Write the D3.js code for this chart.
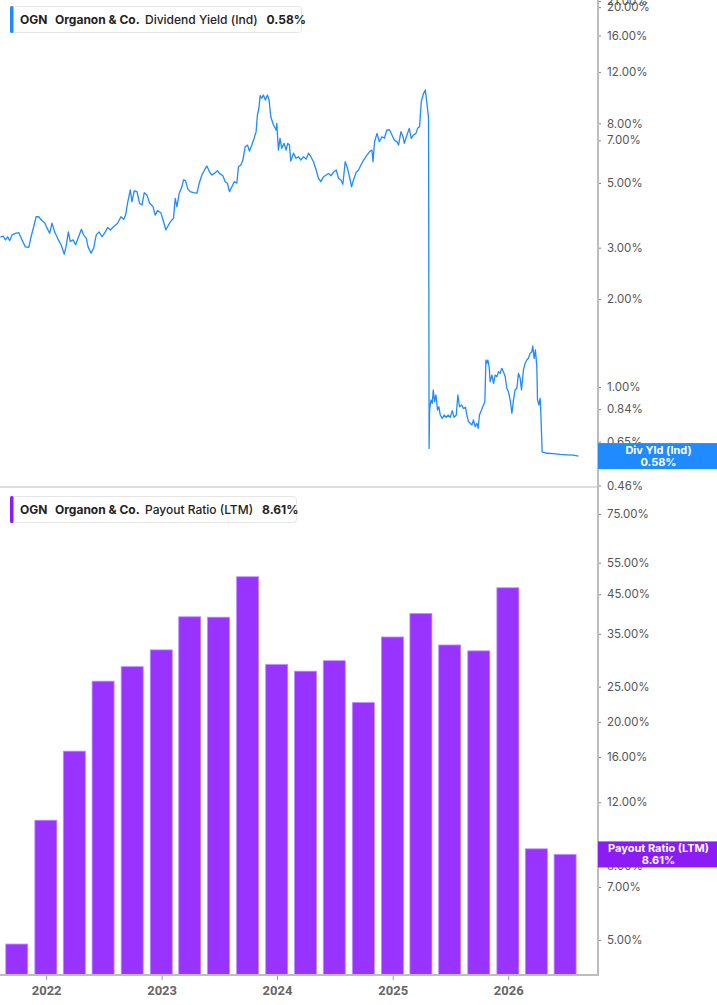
<!DOCTYPE html>
<html>
<head>
<meta charset="utf-8">
<script src="https://cdn.jsdelivr.net/npm/d3@7"></script>
<style>
  html, body { margin: 0; padding: 0; background: #fff; }
  svg { display: block; font-family: Inter, "Noto Sans", sans-serif; }
</style>
</head>
<body>
<script>
// OGN -- dividend yield (log scale) over payout ratio bars (log scale)

const WIDTH = 717;
const HEIGHT = 1005;
const AXIS_X = 598;

// Dividend yield (Ind), % -- time as decimal year
const yieldTimes = [
  2021.604, 2021.627, 2021.647, 2021.667, 2021.684, 2021.705, 2021.733, 2021.762, 2021.791, 2021.820,
  2021.849, 2021.869, 2021.892, 2021.913, 2021.935, 2021.964, 2021.987, 2022.008, 2022.030, 2022.051,
  2022.073, 2022.099, 2022.129, 2022.157, 2022.175, 2022.192, 2022.209, 2022.233, 2022.255, 2022.281,
  2022.305, 2022.324, 2022.348, 2022.363, 2022.389, 2022.411, 2022.434, 2022.458, 2022.484, 2022.512,
  2022.532, 2022.556, 2022.584, 2022.619, 2022.648, 2022.671, 2022.688, 2022.705, 2022.729, 2022.743,
  2022.763, 2022.787, 2022.809, 2022.830, 2022.850, 2022.873, 2022.896, 2022.925, 2022.945, 2022.965,
  2022.994, 2023.017, 2023.037, 2023.060, 2023.083, 2023.103, 2023.118, 2023.133, 2023.153, 2023.176,
  2023.190, 2023.207, 2023.228, 2023.248, 2023.276, 2023.306, 2023.326, 2023.349, 2023.372, 2023.392,
  2023.415, 2023.436, 2023.458, 2023.484, 2023.501, 2023.531, 2023.551, 2023.570, 2023.588, 2023.609,
  2023.629, 2023.652, 2023.666, 2023.687, 2023.704, 2023.724, 2023.744, 2023.761, 2023.782, 2023.802,
  2023.819, 2023.830, 2023.843, 2023.854, 2023.868, 2023.882, 2023.899, 2023.917, 2023.931, 2023.946,
  2023.969, 2023.992, 2023.998, 2024.012, 2024.026, 2024.041, 2024.061, 2024.078, 2024.093, 2024.107,
  2024.119, 2024.142, 2024.165, 2024.185, 2024.206, 2024.228, 2024.252, 2024.272, 2024.292, 2024.315,
  2024.338, 2024.358, 2024.379, 2024.401, 2024.425, 2024.445, 2024.465, 2024.488, 2024.511, 2024.531,
  2024.552, 2024.569, 2024.589, 2024.609, 2024.626, 2024.644, 2024.661, 2024.684, 2024.704, 2024.725,
  2024.748, 2024.777, 2024.800, 2024.820, 2024.829, 2024.843, 2024.864, 2024.884, 2024.907, 2024.927,
  2024.950, 2024.973, 2024.993, 2025.013, 2025.037, 2025.050, 2025.071, 2025.089, 2025.100, 2025.123,
  2025.143, 2025.160, 2025.180, 2025.201, 2025.215, 2025.232, 2025.247, 2025.267, 2025.282, 2025.296,
  2025.310, 2025.315, 2025.319, 2025.331, 2025.342, 2025.351, 2025.362, 2025.374, 2025.388, 2025.400,
  2025.411, 2025.429, 2025.446, 2025.463, 2025.480, 2025.498, 2025.515, 2025.532, 2025.550, 2025.564,
  2025.578, 2025.596, 2025.613, 2025.630, 2025.642, 2025.656, 2025.671, 2025.686, 2025.699, 2025.714,
  2025.729, 2025.740, 2025.751, 2025.769, 2025.786, 2025.798, 2025.807, 2025.815, 2025.824, 2025.835,
  2025.844, 2025.859, 2025.873, 2025.887, 2025.902, 2025.916, 2025.930, 2025.945, 2025.959, 2025.974,
  2025.988, 2026.002, 2026.017, 2026.032, 2026.046, 2026.060, 2026.075, 2026.089, 2026.104, 2026.115,
  2026.132, 2026.147, 2026.161, 2026.175, 2026.190, 2026.205, 2026.213, 2026.225, 2026.236, 2026.248,
  2026.254, 2026.266, 2026.277, 2026.283, 2026.294, 2026.335, 2026.392, 2026.450, 2026.508, 2026.565,
  2026.608
];
const yieldValues = [
  3.26, 3.29, 3.19, 3.27, 3.17, 3.32, 3.36, 3.38, 3.19, 3.02,
  3.01, 3.27, 3.54, 3.83, 3.83, 3.71, 3.65, 3.50, 3.36, 3.64,
  3.40, 3.23, 3.07, 2.85, 3.07, 3.40, 3.15, 3.19, 3.07, 3.27,
  3.47, 3.32, 3.23, 3.02, 2.87, 2.99, 3.32, 3.40, 3.27, 3.40,
  3.52, 3.45, 3.54, 3.64, 3.83, 3.75, 3.88, 4.26, 4.73, 4.31,
  4.70, 4.67, 4.26, 4.20, 4.63, 4.55, 4.26, 4.15, 3.88, 4.02,
  3.95, 3.68, 3.45, 3.59, 3.71, 3.78, 4.43, 4.15, 4.61, 4.85,
  5.12, 5.09, 4.76, 4.67, 4.63, 4.61, 4.99, 5.32, 5.54, 5.71,
  5.46, 5.32, 5.39, 5.51, 5.39, 5.29, 5.05, 4.99, 4.67, 4.85,
  5.05, 4.99, 5.68, 5.76, 5.99, 6.65, 6.74, 6.43, 6.74, 7.11,
  7.49, 8.54, 9.01, 9.95, 9.75, 10.00, 9.62, 10.00, 9.62, 8.43,
  7.90, 7.59, 8.00, 6.48, 7.11, 6.57, 6.83, 6.48, 6.83, 6.74,
  5.94, 6.32, 6.07, 6.15, 5.99, 6.15, 6.04, 6.32, 6.15, 5.91,
  5.54, 5.19, 5.05, 5.25, 5.32, 5.39, 5.29, 5.44, 5.54, 5.19,
  5.12, 4.95, 5.91, 5.61, 5.25, 4.85, 5.12, 5.44, 5.54, 5.76,
  5.99, 6.23, 6.40, 6.48, 5.91, 6.92, 7.39, 6.92, 7.20, 7.11,
  7.59, 7.59, 7.30, 7.01, 6.92, 6.74, 7.49, 7.20, 6.83, 7.30,
  7.69, 7.11, 7.30, 7.39, 7.69, 7.79, 9.49, 10.14, 10.41, 9.37,
  8.32, 0.616, 0.834, 0.903, 0.879, 0.977, 0.891, 0.939, 0.834, 0.856,
  0.802, 0.781, 0.802, 0.787, 0.802, 0.787, 0.830, 0.787, 0.802, 0.939,
  0.856, 0.868, 0.845, 0.852, 0.802, 0.761, 0.751, 0.741, 0.771, 0.731,
  0.751, 0.722, 0.802, 0.834, 0.868, 0.891, 1.237, 1.206, 1.237, 1.174,
  1.043, 1.099, 1.030, 1.099, 1.085, 1.128, 1.114, 1.159, 1.128, 1.085,
  0.990, 0.964, 0.903, 0.813, 0.903, 0.977, 0.990, 1.114, 1.071, 0.977,
  1.144, 1.206, 1.237, 1.254, 1.304, 1.321, 1.382, 1.254, 1.339, 1.174,
  0.903, 0.868, 0.915, 0.813, 0.600, 0.593, 0.591, 0.588, 0.586, 0.584,
  0.58
];

// Payout ratio (LTM), % -- quarterly
const payoutDates = [
  '2021-09-30', '2021-12-31', '2022-03-31', '2022-06-30', '2022-09-30',
  '2022-12-31', '2023-03-31', '2023-06-30', '2023-09-30', '2023-12-31',
  '2024-03-31', '2024-06-30', '2024-09-30', '2024-12-31', '2025-03-31',
  '2025-06-30', '2025-09-30', '2025-12-31', '2026-03-31', '2026-06-30'
];
const payoutValues = [
  4.87, 10.7, 16.6, 25.9, 28.4, 31.6, 39.0, 38.9, 50.3, 28.8,
  27.6, 29.5, 22.6, 34.3, 39.8, 32.6, 31.4, 46.9, 8.92, 8.61
];

// Tick labels
const yieldTicks = [21, 20, 16, 12, 8, 7, 5, 3, 2, 1, 0.84, 0.65, 0.46];
const payoutTicks = [75, 55, 45, 35, 25, 20, 16, 12, 8, 7, 5];
const yearTicks = ['2022', '2023', '2024', '2025', '2026'];

const BLUE = '#1f8bff';
const PURPLE = '#9933ff';
const PURPLE_DARK = '#8c1cf6';

const decimalToDate = t => {
    const y = Math.floor(t);
    const a = new Date(y, 0, 1), b = new Date(y + 1, 0, 1);
    return new Date(+a + (t - y) * (b - a));
};
const parseDay = d3.timeParse('%Y-%m-%d');

const yieldData = yieldTimes.map((t, i) => ({date: decimalToDate(t), value: yieldValues[i]}));
const payoutData = payoutDates.map((d, i) => ({date: parseDay(d), value: payoutValues[i]}));

const svg = d3.select('body').append('svg')
    .attr('width', WIDTH)
    .attr('height', HEIGHT);

// shared time scale
const x = d3.scaleTime()
    .domain([new Date(2021, 7, 8), new Date(2026, 9, 12)])
    .range([0, AXIS_X]);

// ---- top panel: dividend yield ----
const TOP_Y0 = 0, TOP_Y1 = 487;
const yTop = d3.scaleLog().domain([0.4545, 21.16]).range([TOP_Y1, TOP_Y0]);

svg.append('clipPath').attr('id', 'clip-top')
  .append('rect').attr('x', 0).attr('y', TOP_Y0).attr('width', AXIS_X).attr('height', TOP_Y1 - TOP_Y0);

const line = d3.line()
    .x(d => x(d.date))
    .y(d => yTop(d.value));

svg.append('path')
    .datum(yieldData)
    .attr('clip-path', 'url(#clip-top)')
    .attr('fill', 'none')
    .attr('stroke', BLUE)
    .attr('stroke-width', 1.3)
    .attr('stroke-linejoin', 'round')
    .attr('d', line);

// ---- bottom panel: payout ratio ----
const BOT_Y0 = 487, BOT_Y1 = 975;
const yBot = d3.scaleLog().domain([4.0, 89]).range([BOT_Y1, BOT_Y0]);
const BAR_W = 22;

svg.append('g').selectAll('rect')
    .data(payoutData)
    .join('rect')
    .attr('x', d => x(d.date) - BAR_W / 2)
    .attr('y', d => yBot(d.value))
    .attr('width', BAR_W)
    .attr('height', d => BOT_Y1 - yBot(d.value))
    .attr('fill', PURPLE)
    .attr('stroke', '#c08cff')
    .attr('stroke-width', 0.8);

// separator between panels
svg.append('line')
    .attr('x1', 0).attr('x2', AXIS_X)
    .attr('y1', TOP_Y1).attr('y2', TOP_Y1)
    .attr('stroke', '#dedede')
    .attr('stroke-width', 2);

// ---- axes ----
const pct = d => d.toFixed(2) + '%';

const styleAxis = g => {
    g.select('.domain').remove();
    g.selectAll('.tick line').attr('stroke', '#888');
    g.selectAll('.tick text')
        .attr('fill', '#555')
        .style('font-size', '11.5px')
        .style('font-family', 'Inter, sans-serif');
};

svg.append('g')
    .attr('transform', `translate(${AXIS_X},0)`)
    .call(d3.axisRight(yTop).tickValues(yieldTicks).tickFormat(pct).tickSize(3).tickPadding(6))
    .call(styleAxis);

svg.append('g')
    .attr('transform', `translate(${AXIS_X},0)`)
    .call(d3.axisRight(yBot).tickValues(payoutTicks).tickFormat(pct).tickSize(3).tickPadding(6))
    .call(styleAxis);

svg.append('g')
    .attr('transform', `translate(0,${BOT_Y1})`)
    .call(d3.axisBottom(x)
        .tickValues(yearTicks.map(y => new Date(+y, 0, 1)))
        .tickFormat(d3.timeFormat('%Y'))
        .tickSize(5).tickPadding(6))
    .call(g => {
        g.select('.domain').remove();
        g.selectAll('.tick line').attr('stroke', '#999');
        g.selectAll('.tick text')
            .attr('fill', '#666')
            .style('font-size', '13px')
            .style('font-weight', '700')
            .style('font-family', 'Roboto, Inter, sans-serif');
    });

// axis frame lines
svg.append('line')
    .attr('x1', AXIS_X).attr('x2', AXIS_X)
    .attr('y1', 0).attr('y2', BOT_Y1 + 1)
    .attr('stroke', '#bdbdbd').attr('stroke-width', 2);
svg.append('line')
    .attr('x1', 0).attr('x2', AXIS_X)
    .attr('y1', BOT_Y1).attr('y2', BOT_Y1)
    .attr('stroke', '#bdbdbd').attr('stroke-width', 2);

// ---- value tags on the axis ----
const tag = (yPos, color, label, value) => {
    const g = svg.append('g');
    g.append('rect')
        .attr('x', AXIS_X).attr('y', yPos - 13)
        .attr('width', WIDTH - AXIS_X).attr('height', 26)
        .attr('fill', color);
    g.append('text')
        .attr('x', (AXIS_X + WIDTH) / 2 + 1).attr('y', yPos - 2)
        .attr('text-anchor', 'middle')
        .attr('fill', '#fff')
        .style('font-size', '11px').style('font-weight', '700')
        .text(label);
    g.append('text')
        .attr('x', (AXIS_X + WIDTH) / 2 + 1).attr('y', yPos + 10)
        .attr('text-anchor', 'middle')
        .attr('fill', '#fff')
        .style('font-size', '11px').style('font-weight', '700')
        .text(value);
};
tag(yTop(yieldValues[yieldValues.length - 1]), BLUE, 'Div Yld (Ind)', '0.58%');
tag(yBot(payoutValues[payoutValues.length - 1]), PURPLE_DARK, 'Payout Ratio (LTM)', '8.61%');

// ---- legend headers ----
const header = (top, width, color, metric, value) => {
    const g = svg.append('g').attr('transform', `translate(10,${top})`);
    g.append('rect')
        .attr('x', 0.5).attr('y', 0.5)
        .attr('width', width).attr('height', 26).attr('rx', 3)
        .attr('fill', '#fff').attr('stroke', '#e6e6e6');
    g.append('rect')
        .attr('x', 0).attr('y', 0)
        .attr('width', 3.5).attr('height', 27).attr('rx', 1.5)
        .attr('fill', color);
    const t = g.append('text')
        .attr('x', 10).attr('y', 18)
        .attr('fill', '#222')
        .style('font-size', '12px');
    t.append('tspan').style('font-weight', '700').text('OGN');
    t.append('tspan').attr('x', 45).style('font-weight', '700').text('Organon & Co.');
    t.append('tspan').attr('x', 135).style('font-weight', '500').text(metric);
    t.append('tspan').attr('dx', 9).style('font-weight', '700').text(value);
};
header(6, 291, BLUE, 'Dividend Yield (Ind)', '0.58%');
header(496, 286, PURPLE_DARK, 'Payout Ratio (LTM)', '8.61%');
</script>
</body>
</html>
